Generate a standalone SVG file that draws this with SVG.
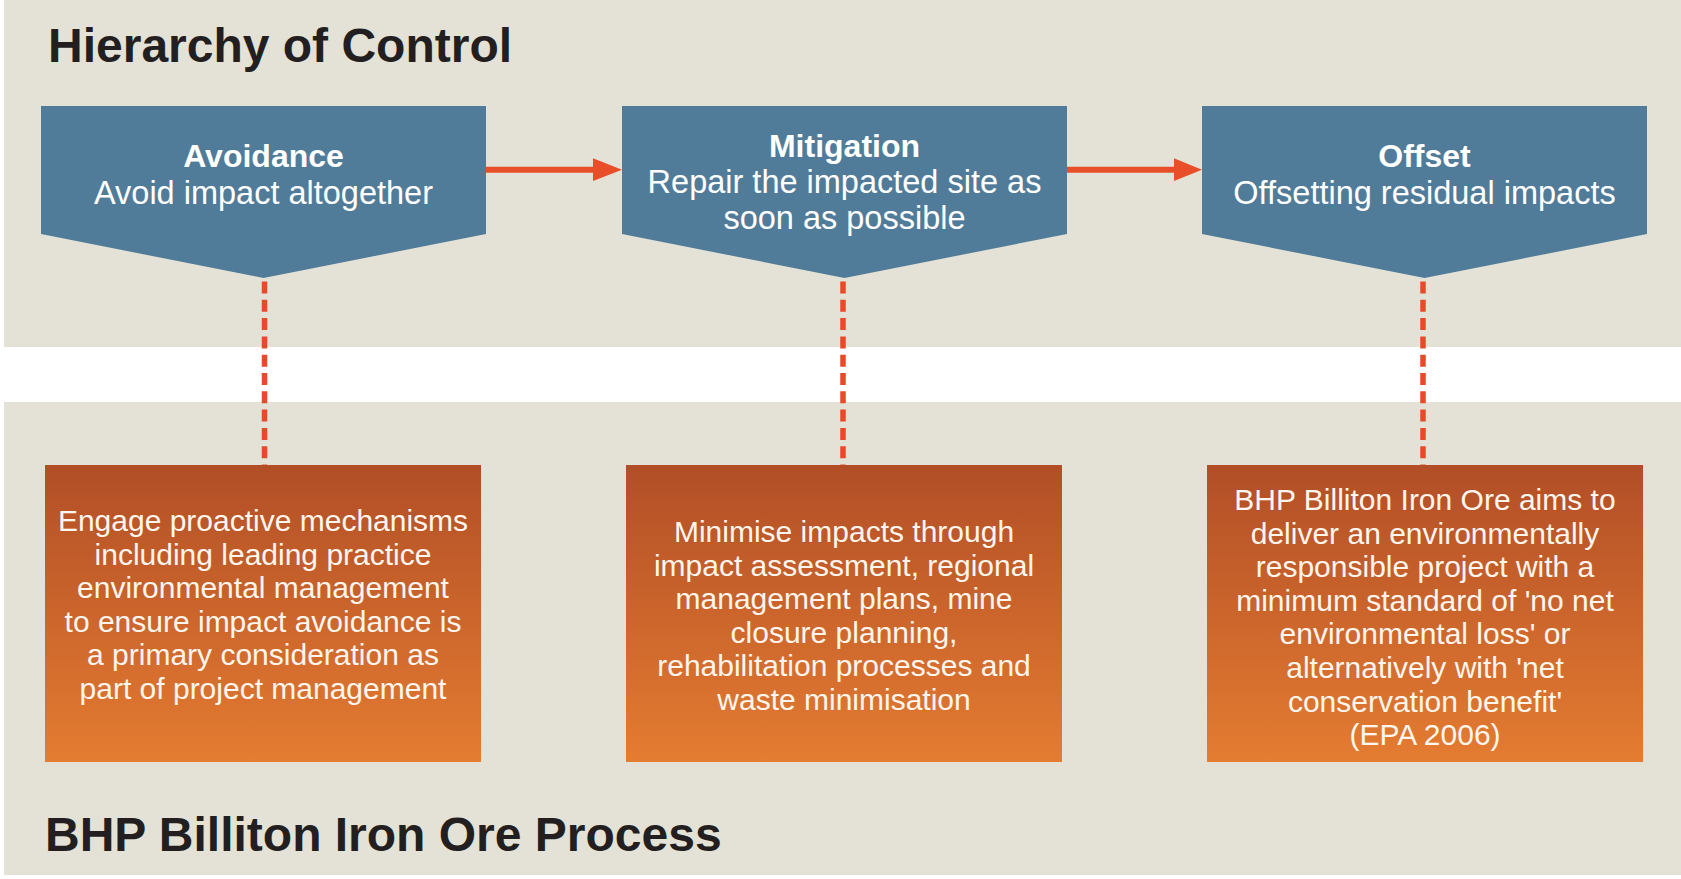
<svg xmlns="http://www.w3.org/2000/svg" width="1681" height="879" viewBox="0 0 1681 879">
  <style>
    .title { font-family: "Liberation Sans", Arial, sans-serif; font-weight: bold; font-size: 48px; fill: #231f20; }
    .head { fill: #517c99; }
    .hb { font-family: "Liberation Sans", Arial, sans-serif; font-weight: bold; font-size: 32px; fill: #ffffff; text-anchor: middle; }
    .hr { font-family: "Liberation Sans", Arial, sans-serif; font-size: 32.5px; fill: #ffffff; text-anchor: middle; }
    .body { font-family: "Liberation Sans", Arial, sans-serif; font-size: 30px; fill: #fdf6ee; text-anchor: middle; }
    .arrow { stroke: #e84e27; stroke-width: 6; fill: none; }
    .dash { stroke: #e84a29; stroke-width: 5.5; stroke-dasharray: 12 6.3; fill: none; }
  </style>
  <defs>
    <linearGradient id="og" x1="0" y1="0" x2="0" y2="1">
      <stop offset="0" stop-color="#b24e27"/>
      <stop offset="1" stop-color="#e47c31"/>
    </linearGradient>
  </defs>

  <!-- background -->
  <rect x="0" y="0" width="1681" height="879" fill="#ffffff"/>
  <rect x="4" y="0" width="1677" height="347" fill="#e4e2d6"/>
  <rect x="4" y="402" width="1677" height="473" fill="#e4e2d6"/>

  <text class="title" x="48" y="62">Hierarchy of Control</text>
  <text class="title" x="45" y="851">BHP Billiton Iron Ore Process</text>

  <g id="connectors">
    <line class="arrow" x1="486" y1="169.7" x2="596" y2="169.7"/>
    <polygon points="593,158.3 622,169.7 593,181" fill="#e84e27"/>
    <line class="arrow" x1="1067" y1="169.7" x2="1177" y2="169.7"/>
    <polygon points="1174,158.3 1202,169.7 1174,181" fill="#e84e27"/>
    <line class="dash" x1="264.5" y1="281.5" x2="264.5" y2="465"/>
    <line class="dash" x1="843" y1="281.5" x2="843" y2="465"/>
    <line class="dash" x1="1423" y1="281.5" x2="1423" y2="465"/>
  </g>

  <g id="avoidance">
    <polygon class="head" points="41,106 486,106 486,234 263.5,278 41,234"/>
    <text class="hb" x="263.5" y="167">Avoidance</text>
    <text class="hr" x="263.5" y="204">Avoid impact altogether</text>
  </g>

  <g id="mitigation">
    <polygon class="head" points="622,106 1067,106 1067,234 844.5,278 622,234"/>
    <text class="hb" x="844.5" y="156.5">Mitigation</text>
    <text class="hr" x="844.5" y="192.5">Repair the impacted site as</text>
    <text class="hr" x="844.5" y="228.5">soon as possible</text>
  </g>

  <g id="offset">
    <polygon class="head" points="1202,106 1647,106 1647,234 1424.5,278 1202,234"/>
    <text class="hb" x="1424.5" y="167">Offset</text>
    <text class="hr" x="1424.5" y="204">Offsetting residual impacts</text>
  </g>

  <g id="avoidance-process">
    <rect x="45" y="465" width="436" height="297" fill="url(#og)"/>
    <text class="body" x="263" y="531">Engage proactive mechanisms</text>
    <text class="body" x="263" y="564.6">including leading practice</text>
    <text class="body" x="263" y="598.2">environmental management</text>
    <text class="body" x="263" y="631.8">to ensure impact avoidance is</text>
    <text class="body" x="263" y="665.4">a primary consideration as</text>
    <text class="body" x="263" y="699">part of project management</text>
  </g>

  <g id="mitigation-process">
    <rect x="626" y="465" width="436" height="297" fill="url(#og)"/>
    <text class="body" x="844" y="542">Minimise impacts through</text>
    <text class="body" x="844" y="575.6">impact assessment, regional</text>
    <text class="body" x="844" y="609.2">management plans, mine</text>
    <text class="body" x="844" y="642.8">closure planning,</text>
    <text class="body" x="844" y="676.4">rehabilitation processes and</text>
    <text class="body" x="844" y="710">waste minimisation</text>
  </g>

  <g id="offset-process">
    <rect x="1207" y="465" width="436" height="297" fill="url(#og)"/>
    <text class="body" x="1425" y="510">BHP Billiton Iron Ore aims to</text>
    <text class="body" x="1425" y="543.6">deliver an environmentally</text>
    <text class="body" x="1425" y="577.2">responsible project with a</text>
    <text class="body" x="1425" y="610.8">minimum standard of 'no net</text>
    <text class="body" x="1425" y="644.4">environmental loss' or</text>
    <text class="body" x="1425" y="678">alternatively with 'net</text>
    <text class="body" x="1425" y="711.6">conservation benefit'</text>
    <text class="body" x="1425" y="745.2">(EPA 2006)</text>
  </g>
</svg>
